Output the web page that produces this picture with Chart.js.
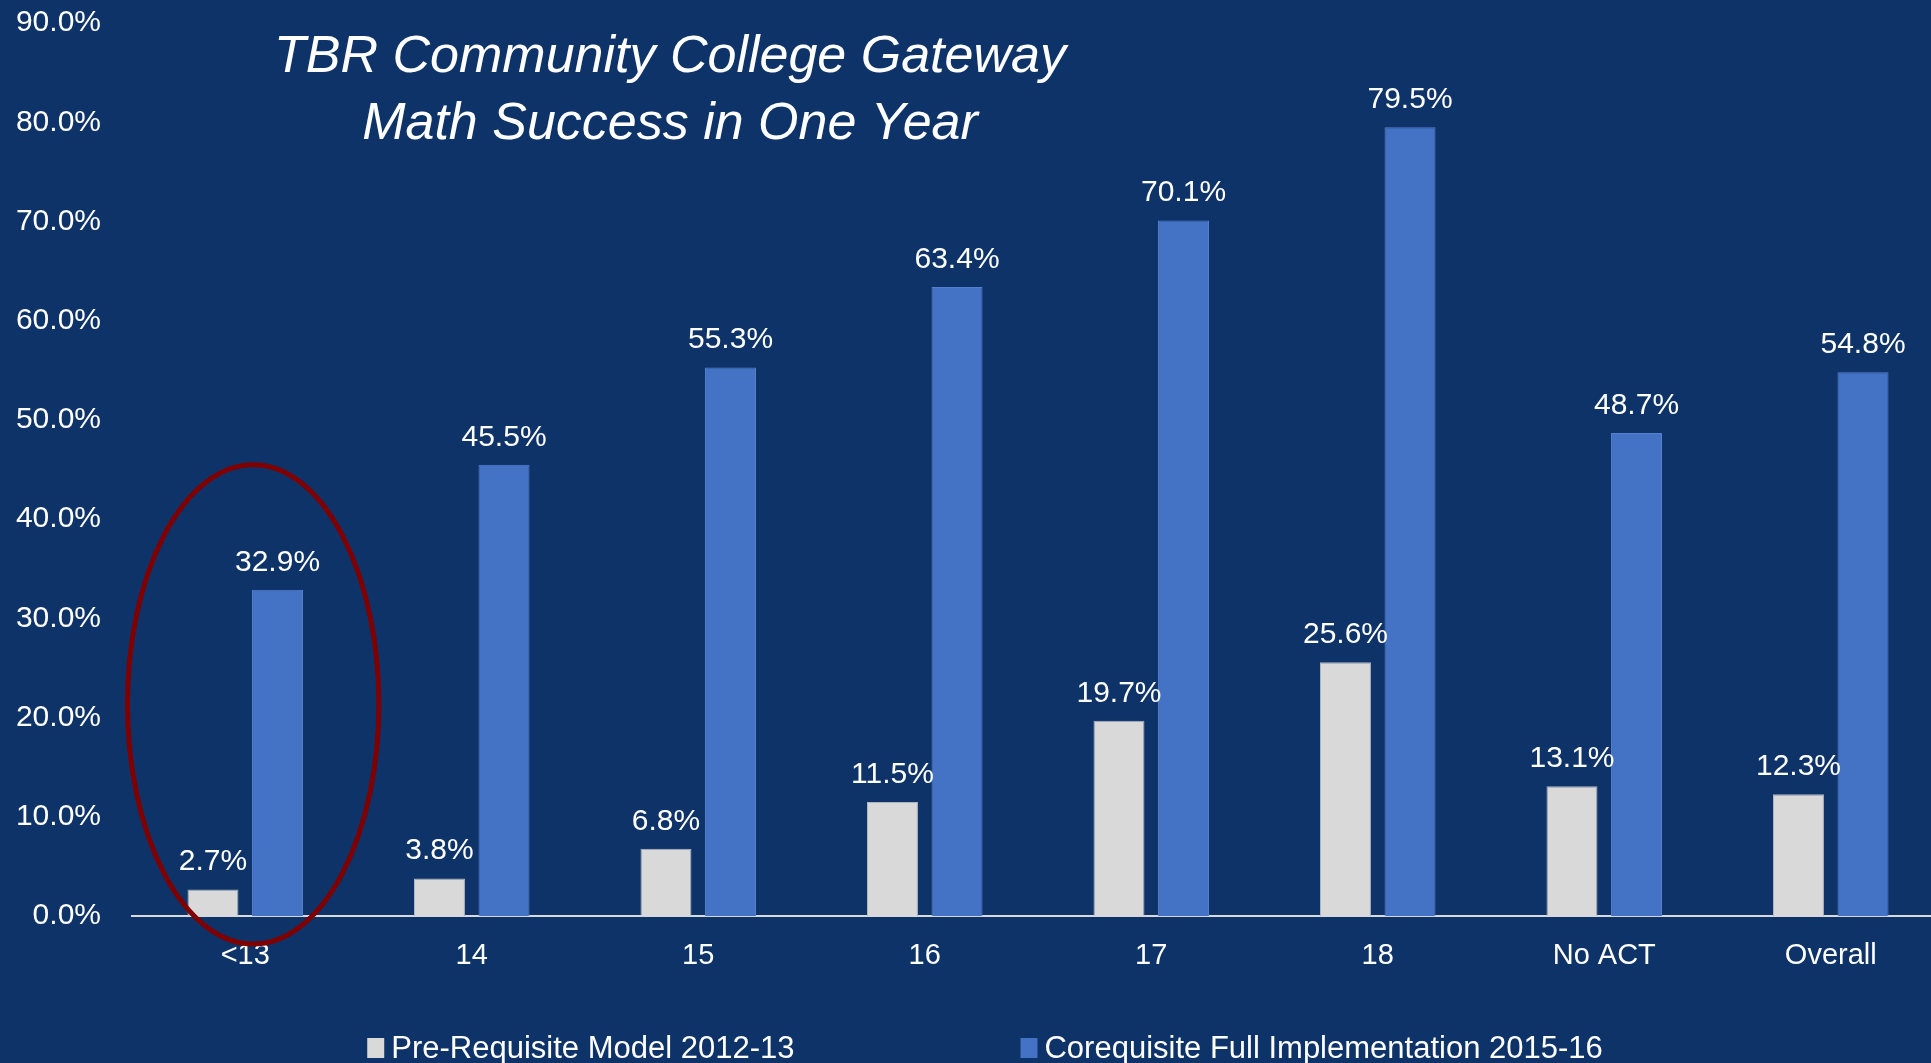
<!DOCTYPE html>
<html>
<head>
<meta charset="utf-8">
<title>TBR Gateway Math Success</title>
<script src="https://cdn.jsdelivr.net/npm/chart.js@4.4.0/dist/chart.umd.min.js"></script>
<style>
    html, body { margin: 0; padding: 0; background: #0e3369; overflow: hidden; }
    #wrap { position: relative; width: 1944px; height: 1063px; }
</style>
</head>
<body>
<div id="wrap"><canvas id="gatewayChart" width="1944" height="1063"></canvas></div>
<script>
var categories = ['<13', '14', '15', '16', '17', '18', 'No ACT', 'Overall'];
var preRequisite = [2.7, 3.8, 6.8, 11.5, 19.7, 25.6, 13.1, 12.3];
var corequisite = [32.9, 45.5, 55.3, 63.4, 70.1, 79.5, 48.7, 54.8];
var seriesNames = ['Pre-Requisite Model 2012-13', 'Corequisite Full Implementation 2015-16'];
var seriesColors = ['#d9d9d9', '#4472c4'];
var titleLines = ['TBR Community College Gateway', 'Math Success in One Year'];
var yMin = 0, yMax = 90, yStep = 10;

(function() {
    'use strict';

    var FONT = "'Liberation Sans', Arial, sans-serif";

    // value labels over each bar
    var valueLabels = {
        id: 'valueLabels',
        afterDatasetsDraw: function(chart) {
            var ctx = chart.ctx;
            ctx.save();
            ctx.fillStyle = '#ffffff';
            ctx.font = '30px ' + FONT;
            ctx.textAlign = 'center';
            ctx.textBaseline = 'alphabetic';
            chart.data.datasets.forEach(function(ds, i) {
                chart.getDatasetMeta(i).data.forEach(function(bar, j) {
                    ctx.fillText(ds.data[j].toFixed(1) + '%', bar.x, bar.y - 19);
                });
            });
            ctx.restore();
        }
    };

    // red ring around the first category
    var highlightRing = {
        id: 'highlightRing',
        afterDatasetsDraw: function(chart) {
            var x = chart.scales.x, y = chart.scales.y;
            var w = x.getPixelForValue(1) - x.getPixelForValue(0);
            var cx = x.getPixelForValue(0) + 0.035 * w;
            var top = y.getPixelForValue(45.5), bottom = y.getPixelForValue(-2.8);
            var ctx = chart.ctx;
            ctx.save();
            ctx.strokeStyle = '#7f0000';
            ctx.lineWidth = 5;
            ctx.beginPath();
            ctx.ellipse(cx, (top + bottom) / 2, 0.555 * w, (bottom - top) / 2, 0, 0, Math.PI * 2);
            ctx.stroke();
            ctx.restore();
        }
    };

    // italic title inside the plot and legend at the bottom
    var decorations = {
        id: 'decorations',
        afterDraw: function(chart) {
            var ctx = chart.ctx;
            ctx.save();
            ctx.fillStyle = '#ffffff';
            ctx.textAlign = 'center';
            ctx.textBaseline = 'alphabetic';
            ctx.font = 'italic 52px ' + FONT;
            ctx.fillText(titleLines[0], 670, 72);
            ctx.fillText(titleLines[1], 670, 139);

            ctx.font = '31px ' + FONT;
            ctx.textAlign = 'left';
            var box = 17, boxGap = 7, itemGap = 226;
            var widths = seriesNames.map(function(n) { return box + boxGap + ctx.measureText(n).width; });
            var total = widths[0] + widths[1] + itemGap;
            var left = 985 - total / 2;
            seriesNames.forEach(function(name, i) {
                ctx.fillStyle = seriesColors[i];
                ctx.fillRect(left, 1038, box, box + 3);
                ctx.fillStyle = '#ffffff';
                ctx.fillText(name, left + box + boxGap, 1058);
                left += widths[i] + itemGap;
            });
            ctx.restore();
        }
    };

    function initChart() {
        var canvas = document.getElementById('gatewayChart');
        new Chart(canvas, {
            type: 'bar',
            data: {
                labels: categories,
                datasets: [{
                    label: seriesNames[0],
                    data: preRequisite,
                    backgroundColor: seriesColors[0],
                    borderColor: '#aeb4bf',
                    borderWidth: 1,
                    categoryPercentage: 0.57,
                    barPercentage: 0.79
                }, {
                    label: seriesNames[1],
                    data: corequisite,
                    backgroundColor: seriesColors[1],
                    borderColor: '#5580cc',
                    borderWidth: 1,
                    categoryPercentage: 0.57,
                    barPercentage: 0.79
                }]
            },
            options: {
                responsive: false,
                animation: false,
                layout: { padding: { top: 23, bottom: 68, left: 0, right: 0 } },
                plugins: {
                    legend: { display: false },
                    tooltip: { enabled: false }
                },
                scales: {
                    x: {
                        grid: { display: false, drawTicks: false },
                        border: { display: true, color: '#d9d9d9', width: 2 },
                        ticks: { color: '#ffffff', font: { family: FONT, size: 29 }, padding: 22 }
                    },
                    y: {
                        min: yMin,
                        max: yMax,
                        grid: { display: false, drawTicks: false },
                        border: { display: false },
                        ticks: {
                            stepSize: yStep,
                            color: '#ffffff',
                            font: { family: FONT, size: 30 },
                            padding: 31,
                            callback: function(v) { return v.toFixed(1) + '%'; }
                        },
                        afterFit: function(scale) {
                            scale.width = 132;
                            scale.paddingTop = 0;
                        }
                    }
                }
            },
            plugins: [valueLabels, highlightRing, decorations]
        });
    }

    if (document.readyState === 'loading') {
        document.addEventListener('DOMContentLoaded', initChart);
    } else {
        initChart();
    }
})();
</script>
</body>
</html>
